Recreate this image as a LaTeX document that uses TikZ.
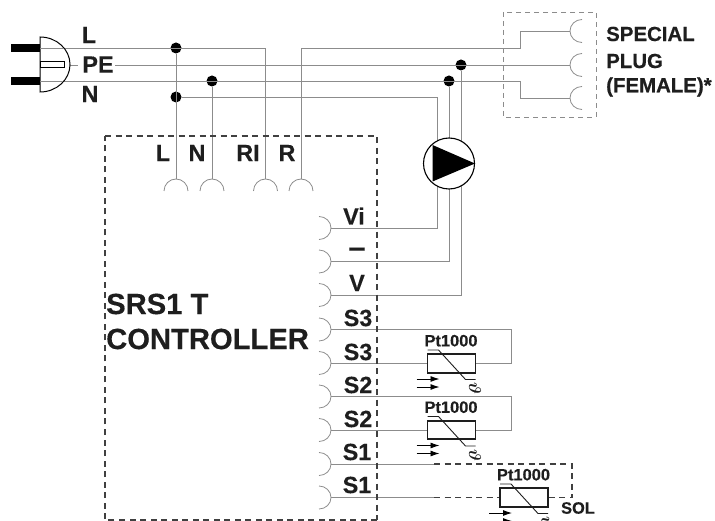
\documentclass[tikz,border=0pt]{standalone}
\usepackage{fontspec}
\setmainfont{Liberation Sans}[BoldFeatures={FakeBold=0.35}]
\usetikzlibrary{arrows.meta}
\definecolor{wire}{HTML}{8C8C8C}
\definecolor{ink}{HTML}{1E1E1E}
\tikzset{
  wireline/.style={draw=wire,line width=0.9bp},
  term/.style={draw=wire,line width=0.8bp},
  lab/.style={font=\fontsize{23.5}{24}\selectfont\bfseries,text=ink,inner sep=0pt},
  big/.style={font=\fontsize{29.3}{30}\selectfont\bfseries,text=ink,inner sep=0pt,anchor=west},
  side/.style={font=\fontsize{20.5}{21}\selectfont\bfseries,text=ink,inner sep=0pt,anchor=west},
  small/.style={font=\fontsize{16.5}{17}\selectfont\bfseries,text=ink,inner sep=0pt},
  dot/.style={circle,fill=black,inner sep=0pt,minimum size=11bp},
  ctrlbox/.style={draw=ink!85,line width=1.4bp,dash pattern=on 6bp off 4.5bp},
  plugbox/.style={draw=wire,line width=0.9bp,dash pattern=on 5bp off 4bp},
  soldash/.style={draw=ink!85,line width=1.1bp,dash pattern=on 6bp off 4.5bp},
  sensorbox/.style={draw=ink,line width=1.6bp,fill=white,minimum width=48bp,minimum height=18.5bp,inner sep=0pt},
}
\newcommand{\topterm}[2]{\draw[term] (#1-12,#2) arc[start angle=180,end angle=360,radius=12];}
\newcommand{\rightterm}[1]{\draw[term] (319,#1-11.5) arc[start angle=-90,end angle=90,x radius=12,y radius=11.5];}
\newcommand{\plugterm}[1]{\draw[term] (582,#1-11.5) arc[start angle=-90,end angle=-270,x radius=12,y radius=11.5];}
\newcommand{\sensorsym}[3]{% #1 name, #2 x centre, #3 y centre
  \node[sensorbox] (#1) at (#2,#3) {};
  \node[small] at (#2-0.5,#3-22.8) {Pt1000};
  \draw[ink,line width=0.9bp] (#2-24,#3-13.5) -- (#2-13,#3-13.5) -- (#2+14,#3+16) -- (#2+24,#3+16);
  \draw[black,line width=0.9bp,-{Latex[length=9bp,width=6bp]}] (#2-35,#3+15.5) -- (#2-12,#3+15.5);
  \draw[black,line width=0.9bp,-{Latex[length=9bp,width=6bp]}] (#2-35,#3+23.5) -- (#2-12,#3+23.5);
  \node[rotate=-90,inner sep=0pt,font=\fontsize{17}{17}\selectfont\boldmath,text=ink] at (#2+23.5,#3+25) {$\vartheta$};
}
\begin{document}
\begin{tikzpicture}[x=1bp,y=-1bp]
\useasboundingbox (0,0) rectangle (715,521);
% coordinates
\coordinate (plugL) at (40,48);
\coordinate (plugPE) at (70,65);
\coordinate (plugN) at (40,81);
\coordinate (tL) at (176,179);
\coordinate (tN) at (212,179);
\coordinate (tRI) at (265.5,179);
\coordinate (tR) at (301,179);
\coordinate (tVi) at (331,228);
\coordinate (tMinus) at (331,261.5);
\coordinate (tV) at (331,295);
\coordinate (tS3a) at (331,329.5);
\coordinate (tS3b) at (331,363);
\coordinate (tS2a) at (331,396.5);
\coordinate (tS2b) at (331,430);
\coordinate (tS1a) at (331,464);
\coordinate (tS1b) at (331,497.5);
\coordinate (fTop) at (570,31);
\coordinate (fMid) at (570,65);
\coordinate (fBot) at (570,98);
\node[dot] (jL) at (176,48) {};
\node[dot] (jLb) at (176,97) {};
\node[dot] (jN) at (212,81) {};
\node[dot] (jPE) at (461,65) {};
\node[dot] (jNr) at (449,81) {};
% wires
\draw[wireline] (plugL) -- (265.5,48) -- (tRI);
\draw[wireline] (tR) -- (301,48) -- (520,48) -- (520,31) -- (fTop);
\draw[wireline] (plugPE) -- (78,65);
\draw[wireline] (115,65) -- (fMid);
\draw[wireline] (plugN) -- (520,81) -- (520,98) -- (fBot);
\draw[wireline] (jL) -- (tL);
\draw[wireline] (jN) -- (tN);
\draw[wireline] (jLb) -- (437,97) -- (437,228) -- (tVi);
\draw[wireline] (jNr) -- (449,261.5) -- (tMinus);
\draw[wireline] (jPE) -- (461,295) -- (tV);
\draw[wireline] (tS3a) -- (511,329.5) -- (511,363) -- (476,363);
\draw[wireline] (tS3b) -- (427,363);
\draw[wireline] (tS2a) -- (511,396.5) -- (511,430) -- (476,430);
\draw[wireline] (tS2b) -- (427,430);
\draw[wireline] (tS1a) -- (434,464);
\draw[wireline] (tS1b) -- (434,497.5);
\draw[soldash] (434,464) -- (572,464) -- (572,497.5) -- (548,497.5);
\draw[soldash] (434,497.5) -- (500,497.5);
% terminals
\topterm{176}{191}\topterm{212}{191}\topterm{265.5}{191}\topterm{301}{191}
\foreach \y in {228,261.5,295,329.5,363,396.5,430,464,497.5}{\rightterm{\y}}
\foreach \y in {31,65,98}{\plugterm{\y}}
% boxes
\draw[ctrlbox] (105,136) -- (377,136) -- (377,520);
\draw[ctrlbox] (377,520) -- (105,520) -- (105,136);
\draw[plugbox] (503,12) rectangle (596,117);
% plug
\fill[black] (11,44) rectangle (40,52);
\fill[black] (11,77) rectangle (40,85);
\draw[black,line width=1bp,fill=white] (40,37) arc[start angle=-90,end angle=90,x radius=30,y radius=27.5] -- cycle;
\draw[wire,line width=0.9bp] (40,48) -- (63,48) (40,81) -- (63,81);
\draw[black,line width=1bp,fill=white] (40,61.5) rectangle (64,68);
% pump
\node[circle,draw=black,line width=1.1bp,fill=white,minimum size=51bp,inner sep=0pt] (pump) at (449,163.5) {};
\fill[black] (432.5,145) -- (475,163.5) -- (432.5,181.5) -- cycle;
% sensors
\sensorsym{s3}{451.5}{363.5}
\sensorsym{s2}{451.5}{430}
\sensorsym{s1}{524}{497.5}
% labels
\node[lab] (lL) at (89,35) {L};
\node[lab] (lPE) at (98,64.5) {PE};
\node[lab] (lN) at (90,94) {N};
\node[lab] (iL) at (163,153) {L};
\node[lab] (iN) at (197,153) {N};
\node[lab] (iRI) at (248,153) {RI};
\node[lab] (iR) at (287,153) {R};
\node[lab] (oVi) at (354,216) {Vi};
\node[lab,font=\fontsize{31}{31}\selectfont\bfseries] (oM) at (357,252.5) {–};
\node[lab] (oV) at (357,283) {V};
\node[lab] (o1) at (358,318) {S3};
\node[lab] (o2) at (358,352) {S3};
\node[lab] (o3) at (358,385) {S2};
\node[lab] (o4) at (358,419) {S2};
\node[lab] (o5) at (357,452) {S1};
\node[lab] (o6) at (357,485) {S1};
\node[big] (t1) at (106,304) {SRS1 T};
\node[big] (t2) at (106,339) {CONTROLLER};
\node[side] (p1) at (606,34) {SPECIAL};
\node[side] (p2) at (606,61) {PLUG};
\node[side] (p3) at (606,87) {(FEMALE)*};
\node[small] (sol) at (578,508) {SOL};
\end{tikzpicture}
\end{document}
